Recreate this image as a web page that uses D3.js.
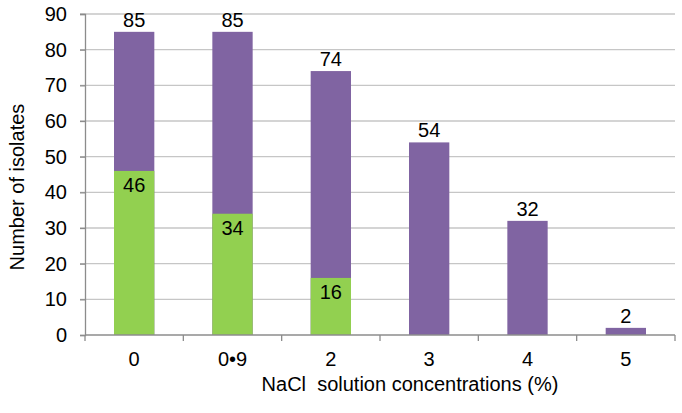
<!DOCTYPE html>
<html>
<head>
<meta charset="utf-8">
<script src="https://cdn.jsdelivr.net/npm/d3@7"></script>
<style>
  body { margin: 0; background: #fff; }
  text { font-family: "Liberation Sans", Arial, sans-serif; fill: #000; }
</style>
</head>
<body>
<script>
var categories = ['0', '0\u20229', '2', '3', '4', '5'];
var totals = [85, 85, 74, 54, 32, 2];
var growth = [46, 34, 16, 0, 0, 0];
var yTicks = [0, 10, 20, 30, 40, 50, 60, 70, 80, 90];

var width = 682;
var height = 413;
var margin = { top: 14, right: 7, bottom: 78, left: 85 };
var innerW = width - margin.left - margin.right;
var innerH = height - margin.top - margin.bottom;

var svg = d3.select('body')
  .append('svg')
  .attr('width', width)
  .attr('height', height);

var g = svg.append('g')
  .attr('transform', 'translate(' + margin.left + ',' + margin.top + ')');

var xScale = d3.scaleBand()
  .domain(categories)
  .range([0, innerW])
  .paddingInner(0.59)
  .paddingOuter(0.295);

var band = d3.scaleBand()
  .domain(categories)
  .range([0, innerW]);

var yScale = d3.scaleLinear()
  .domain([0, 90])
  .range([innerH, 0]);

// gridlines
g.selectAll('line.grid')
  .data(yTicks.slice(1))
  .enter()
  .append('line')
  .attr('class', 'grid')
  .attr('x1', -5)
  .attr('x2', innerW)
  .attr('y1', function(d) { return yScale(d); })
  .attr('y2', function(d) { return yScale(d); })
  .attr('stroke', '#c6c6c6')
  .attr('stroke-width', 1.3);

// y axis
var yAxis = d3.axisLeft(yScale)
  .tickValues(yTicks)
  .tickSize(5)
  .tickPadding(13);

var yg = g.append('g').call(yAxis);
yg.select('.domain').attr('stroke', '#8c8c8c').attr('stroke-width', 1.3);
yg.selectAll('.tick line').attr('stroke', '#8c8c8c').attr('stroke-width', 1.3);
yg.selectAll('.tick text')
  .style('font-size', '20px')
  .style('font-family', '"Liberation Sans", Arial, sans-serif')
  .attr('fill', '#000');

// bars: total (purple) then green part
g.selectAll('rect.total')
  .data(totals)
  .enter()
  .append('rect')
  .attr('class', 'total')
  .attr('x', function(d, i) { return xScale(categories[i]); })
  .attr('y', function(d) { return yScale(d); })
  .attr('width', xScale.bandwidth())
  .attr('height', function(d) { return yScale(0) - yScale(d); })
  .attr('fill', '#8064a2');

g.selectAll('rect.growth')
  .data(growth)
  .enter()
  .append('rect')
  .attr('class', 'growth')
  .attr('x', function(d, i) { return xScale(categories[i]); })
  .attr('y', function(d) { return yScale(d); })
  .attr('width', xScale.bandwidth())
  .attr('height', function(d) { return yScale(0) - yScale(d); })
  .attr('fill', '#92d050');

// x axis line and ticks at band boundaries
g.append('line')
  .attr('x1', 0)
  .attr('x2', innerW)
  .attr('y1', innerH)
  .attr('y2', innerH)
  .attr('stroke', '#8c8c8c')
  .attr('stroke-width', 1.3);

var bounds = categories.map(function(c) { return band(c); }).concat([innerW]);
g.selectAll('line.xtick')
  .data(bounds)
  .enter()
  .append('line')
  .attr('class', 'xtick')
  .attr('x1', function(d) { return d; })
  .attr('x2', function(d) { return d; })
  .attr('y1', innerH)
  .attr('y2', innerH + 6)
  .attr('stroke', '#8c8c8c')
  .attr('stroke-width', 1.3);

g.selectAll('text.xlabel')
  .data(categories)
  .enter()
  .append('text')
  .attr('class', 'xlabel')
  .attr('x', function(d) { return xScale(d) + xScale.bandwidth() / 2; })
  .attr('y', innerH + 31)
  .attr('text-anchor', 'middle')
  .style('font-size', '20px')
  .text(function(d) { return d; });

// value labels
g.selectAll('text.total')
  .data(totals)
  .enter()
  .append('text')
  .attr('class', 'total')
  .attr('x', function(d, i) { return xScale(categories[i]) + xScale.bandwidth() / 2; })
  .attr('y', function(d) { return yScale(d) - 5; })
  .attr('text-anchor', 'middle')
  .style('font-size', '20px')
  .text(function(d) { return d; });

g.selectAll('text.growth')
  .data(growth.filter(function(d) { return d > 0; }))
  .enter()
  .append('text')
  .attr('class', 'growth')
  .attr('x', function(d, i) { return xScale(categories[i]) + xScale.bandwidth() / 2; })
  .attr('y', function(d) { return yScale(d) + 21; })
  .attr('text-anchor', 'middle')
  .style('font-size', '20px')
  .text(function(d) { return d; });

// axis titles
svg.append('text')
  .attr('x', 410)
  .attr('y', 391)
  .attr('text-anchor', 'middle')
  .style('font-size', '20px')
  .attr('xml:space', 'preserve')
  .text('NaCl  solution concentrations (%)');

svg.append('text')
  .attr('transform', 'translate(24,187) rotate(-90)')
  .attr('text-anchor', 'middle')
  .style('font-size', '20px')
  .text('Number of isolates');
</script>
</body>
</html>
